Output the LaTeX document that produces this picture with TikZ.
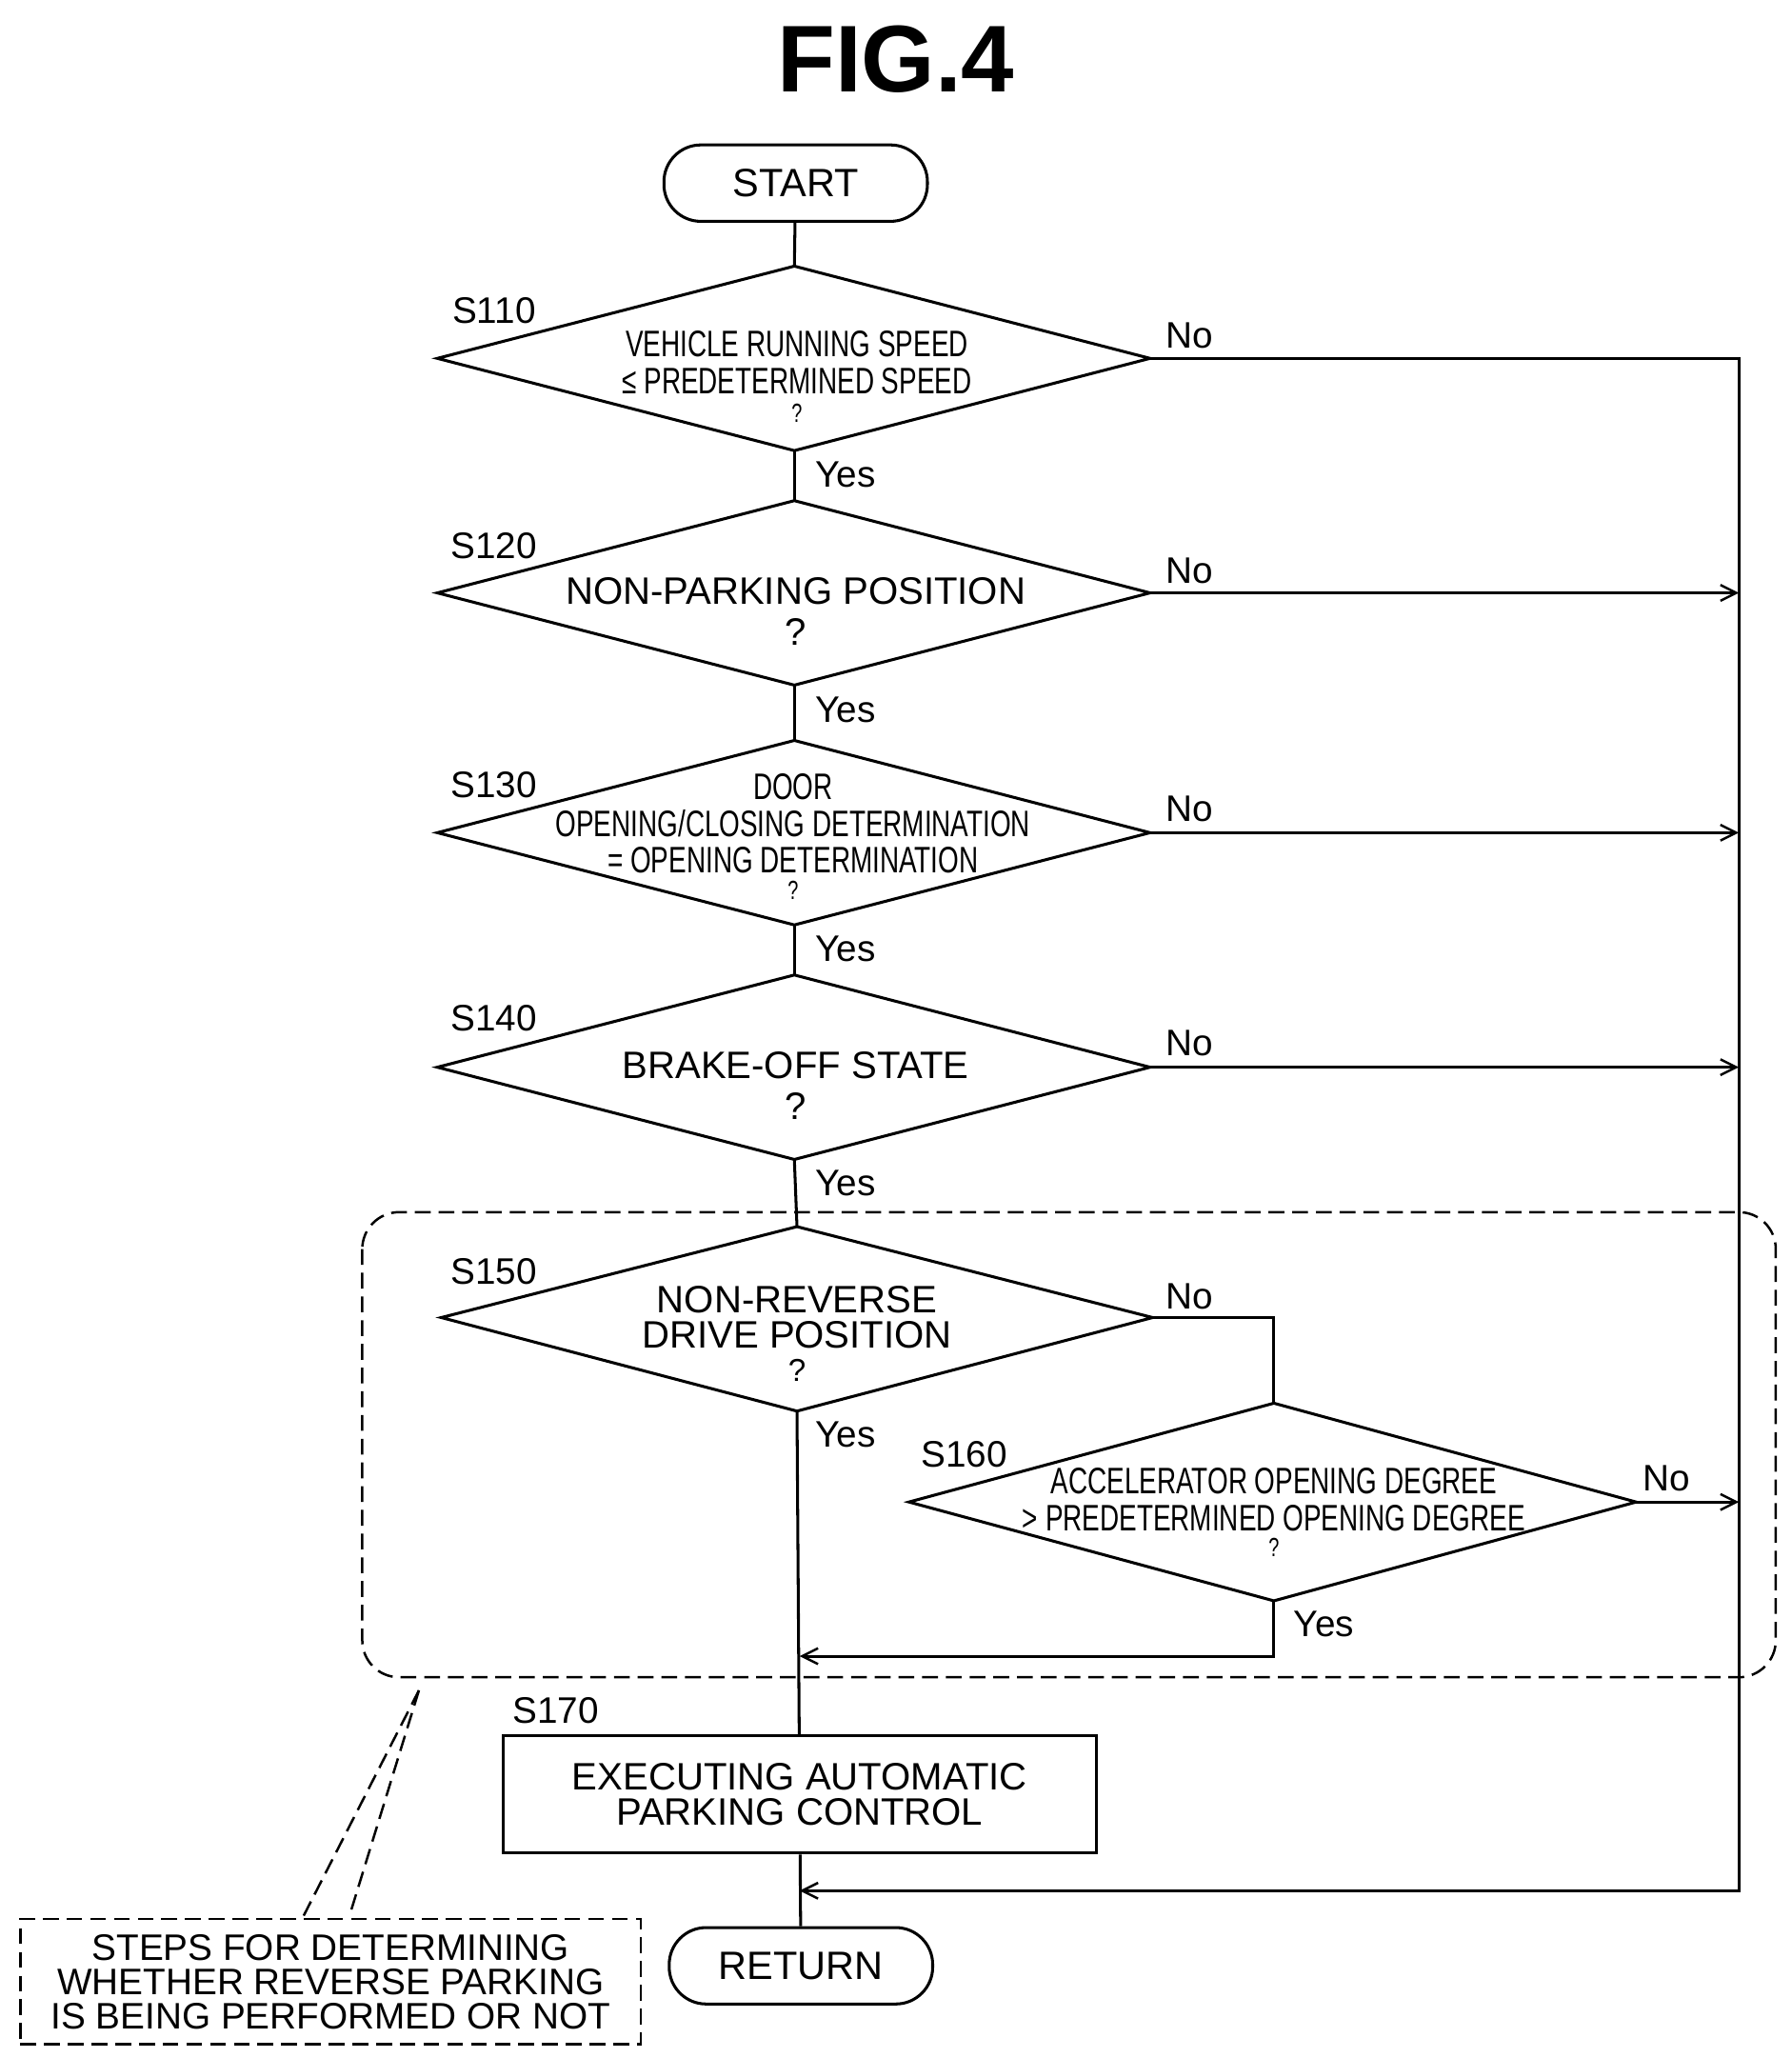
\documentclass[tikz,border=0pt]{standalone}
\usepackage{fontspec}
\setmainfont{Liberation Sans}
\newfontfamily\narrow[FakeStretch=0.72]{Liberation Sans}
\usetikzlibrary{shapes.geometric,arrows.meta}
\begin{document}
\begin{tikzpicture}[x=1pt,y=-1pt,line width=2.2pt,
  term/.style={draw,rounded corners=28pt,minimum width=200pt,minimum height=58pt,font=\fontsize{30}{32}\selectfont},
  txt/.style={font=\fontsize{29}{31}\selectfont,align=center},
  ntxt/.style={font=\narrow\fontsize{28}{28}\selectfont,align=center},
  lab/.style={font=\fontsize{28}{30}\selectfont},
  dsh/.style={dash pattern=on 12pt off 6pt,line width=1.8pt},
  arr/.style={-{Straight Barb[length=12pt,width=12pt,line width=1.8pt]}}]
\useasboundingbox (0,0) rectangle (1360,1562);
\node[font=\bfseries\fontsize{72}{72}\selectfont] (title) at (680,45) {FIG.4};
\node[term] (start) at (604,139) {START};
\foreach \n/\y in {a/272,b/450,c/632,d/810}{
  \draw (332,\y) -- (603,\y-70) -- (873,\y) -- (603,\y+70) -- cycle;
  \coordinate (\n L) at (332,\y); \coordinate (\n R) at (873,\y);
  \coordinate (\n T) at (603,\y-70); \coordinate (\n B) at (603,\y+70);
}
\draw (335,1000) -- (605,931) -- (875,1000) -- (605,1071) -- cycle;
\coordinate (eR) at (875,1000); \coordinate (eT) at (605,931); \coordinate (eB) at (605,1071);
\draw (690,1140) -- (967,1065) -- (1242,1140) -- (967,1215) -- cycle;
\coordinate (fR) at (1242,1140); \coordinate (fT) at (967,1065); \coordinate (fB) at (967,1215);
\node[ntxt] (ta) at (605,286) {VEHICLE RUNNING SPEED\\≤ PREDETERMINED SPEED\\[-6pt]{\fontsize{20}{20}\selectfont ?}};
\node[txt] (tb) at (604,464) {NON-PARKING POSITION\\?};
\node[ntxt] (tc) at (602,635) {DOOR\\OPENING/CLOSING DETERMINATION\\= OPENING DETERMINATION\\[-8pt]{\fontsize{20}{20}\selectfont ?}};
\node[txt] (td) at (604,824) {BRAKE-OFF STATE\\?};
\node[txt,inner sep=0pt] (te) at (605,1012) {NON-REVERSE\\[-4pt]DRIVE POSITION\\[-6pt]{\fontsize{24}{24}\selectfont ?}};
\node[ntxt] (tf) at (967,1148) {ACCELERATOR OPENING DEGREE\\> PREDETERMINED OPENING DEGREE\\[-8pt]{\fontsize{20}{20}\selectfont ?}};
\foreach \t/\x/\y in {S110/375/236,S120/375/414,S130/375/596,S140/375/773,S150/375/965,S160/732/1104,S170/422/1298}
  \node[lab] at (\x,\y) {\t};
\draw[dsh,rounded corners=28pt] (275,920) rectangle (1348,1273);
\node[draw,minimum width=450pt,minimum height=89pt,txt] (g) at (607,1362) {EXECUTING AUTOMATIC\\[-4pt]PARKING CONTROL};
\node[term] (ret) at (608,1492) {RETURN};
\draw (start) -- (aT); \draw (aB) -- (bT); \draw (bB) -- (cT); \draw (cB) -- (dT); \draw (dB) -- (eT);
\draw (eB) -- (g); \draw (g) -- (ret);
\coordinate (ret1) at (607,1435);
\draw[arr] (aR) -- (1320,272) -- (1320,1435) -- (ret1);
\foreach \n in {b,c,d} \draw[arr] (\n R) -- (1320,0 |- \n R);
\draw[arr] (fR) -- (1320,1140);
\draw (eR) -- (967,1000) -- (fT);
\draw[arr] (fB) -- (967,1257) -- (607,1257);
\foreach \x/\y in {903/255,903/433,903/614,903/792,903/984,1265/1122} \node[lab] at (\x,\y) {No};
\foreach \x/\y in {642/360,642/539,642/720,642/898,642/1089,1005/1233} \node[lab] at (\x,\y) {Yes};
\node[draw,dsh,minimum width=471pt,minimum height=95pt,font=\fontsize{28}{28}\selectfont,align=center] (note) at (251,1504)
 {STEPS FOR DETERMINING\\[-2pt]WHETHER REVERSE PARKING\\[-2pt]IS BEING PERFORMED OR NOT};
\coordinate (p) at (318,1283);
\draw[dsh] (p) -- (230,1455);
\draw[dsh] (p) -- (265,1455);
\end{tikzpicture}
\end{document}
